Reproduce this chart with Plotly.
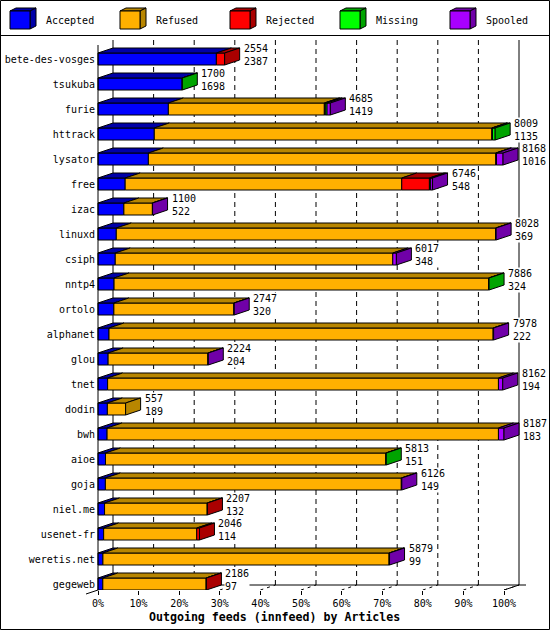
import plotly.graph_objects as go

# ---------------- data ----------------
hosts = ["bete-des-vosges", "tsukuba", "furie", "httrack", "lysator", "free", "izac",
         "linuxd", "csiph", "nntp4", "ortolo", "alphanet", "glou", "tnet", "dodin",
         "bwh", "aioe", "goja", "niel.me", "usenet-fr", "weretis.net", "gegeweb"]
totals = [2554, 1700, 4685, 8009, 8168, 6746, 1100, 8028, 6017, 7886, 2747, 7978,
          2224, 8162, 557, 8187, 5813, 6126, 2207, 2046, 5879, 2186]
accepted = [2387, 1698, 1419, 1135, 1016, 548, 522, 369, 348, 324, 320, 222,
            204, 194, 189, 183, 151, 149, 132, 114, 99, 97]
refused = [0, 0, 3145, 6806, 7005, 5577, 575, 7649, 5596, 7552, 2420, 7746,
           2012, 7881, 368, 7892, 5652, 5967, 2070, 1877, 5770, 2084]
rejected = [167, 0, 20, 15, 15, 558, 0, 0, 0, 0, 0, 0,
            0, 0, 0, 0, 0, 0, 5, 55, 0, 5]
missing = [0, 2, 35, 53, 0, 25, 0, 0, 0, 10, 0, 0,
           0, 0, 0, 0, 10, 0, 0, 0, 0, 0]
spooled = [0, 0, 66, 0, 132, 38, 3, 10, 73, 0, 7, 10,
           8, 87, 0, 112, 0, 10, 0, 0, 10, 0]
tick_pcts = [0, 10, 20, 30, 40, 50, 60, 70, 80, 90, 100]
tick_labels = [f"{t}%" for t in tick_pcts]

series_names = ["Accepted", "Refused", "Rejected", "Missing", "Spooled"]
series_vals = [accepted, refused, rejected, missing, spooled]
front_cols = ["#0000FF", "#FFB000", "#FF0000", "#00FF00", "#A800FF"]
dark_cols = ["#0000A8", "#B88600", "#AA0000", "#00A400", "#7000A8"]

# ---------------- geometry (styles) ----------------
W, H = 550, 630
L, R, T, B = 96, 535, 38, 590          # plot area in pixels
X0PX, PXPERPCT = 98, 4.06               # 0% position and px per percent
ROW0, ROWPX = 59, 25                    # row centre and spacing in px
DEPTH_X, DEPTH_Y = 15, 5                # 3D offset in px
dx = DEPTH_X / PXPERPCT
dy = DEPTH_Y / ROWPX
half = 6 / ROWPX
FONT = "DejaVu Sans Mono"

def pxx(p):
    return (p - L) / (R - L)

def pxy(p):
    return (B - p) / (B - T)

y_top_back = (40 - ROW0) / ROWPX
y_floor_front = (B - ROW0) / ROWPX
y_floor_back = y_floor_front - dy

maxv = max(totals)
n = len(hosts)
rows = list(range(n))

fig = go.Figure()

# segment extents in percent
segs = []  # per row list of (series index, x0, x1)
for i in rows:
    cum = 0.0
    lst = []
    for s, vals in enumerate(series_vals):
        w = vals[i] / maxv * 100
        if vals[i] > 0:
            lst.append((s, cum, cum + w))
        cum += w
    segs.append(lst)

# front faces
for s, vals in enumerate(series_vals):
    xs, bases, ys = [], [], []
    for i in rows:
        for (ss, a, b) in segs[i]:
            if ss == s:
                xs.append(b - a)
                bases.append(a)
                ys.append(i)
    fig.add_trace(go.Bar(
        x=xs, y=ys, base=bases, orientation="h", width=2 * half,
        marker=dict(color=front_cols[s], line=dict(color="black", width=1)),
        name=series_names[s], showlegend=False, hoverinfo="skip"))

# top faces
for s in range(len(series_vals)):
    px_, py_ = [], []
    for i in rows:
        yt = i - half
        for (ss, a, b) in segs[i]:
            if ss == s:
                px_ += [a, b, b + dx, a + dx, a, None]
                py_ += [yt, yt, yt - dy, yt - dy, yt, None]
    if px_:
        fig.add_trace(go.Scatter(
            x=px_, y=py_, mode="lines", fill="toself", fillcolor=dark_cols[s],
            line=dict(color="black", width=1), showlegend=False, hoverinfo="skip"))

# side faces (last segment)
for s in range(len(series_vals)):
    px_, py_ = [], []
    for i in rows:
        if not segs[i]:
            continue
        ss, a, b = segs[i][-1]
        if ss != s:
            continue
        yt, yb = i - half, i + half
        px_ += [b, b + dx, b + dx, b, b, None]
        py_ += [yt, yt - dy, yb - dy, yb, yt, None]
    if px_:
        fig.add_trace(go.Scatter(
            x=px_, y=py_, mode="lines", fill="toself", fillcolor=dark_cols[s],
            line=dict(color="black", width=1), showlegend=False, hoverinfo="skip"))

shapes = []
# back wall grid lines
for t in tick_pcts[1:-1]:
    shapes.append(dict(type="line", xref="x", yref="y", x0=t + dx, x1=t + dx,
                       y0=y_top_back, y1=y_floor_back, layer="below",
                       line=dict(color="black", width=1, dash="5px,4px")))
# floor tick diagonals
for t in tick_pcts:
    shapes.append(dict(type="line", xref="x", yref="y", x0=t, x1=t + dx,
                       y0=y_floor_front, y1=y_floor_back, layer="below",
                       line=dict(color="black", width=1, dash="3px,4px")))
# back wall left/right, floor back
for xv in (dx, 100 + dx):
    shapes.append(dict(type="line", xref="x", yref="y", x0=xv, x1=xv,
                       y0=y_top_back, y1=y_floor_back, layer="below",
                       line=dict(color="black", width=1)))
shapes.append(dict(type="line", xref="x", yref="y", x0=dx, x1=100 + dx + 7 / PXPERPCT,
                   y0=y_floor_back, y1=y_floor_back, layer="below",
                   line=dict(color="black", width=1)))
shapes.append(dict(type="line", xref="x", yref="y", x0=100, x1=100 + dx,
                   y0=y_floor_front, y1=y_floor_back, layer="below",
                   line=dict(color="black", width=1)))
# left floor diagonal (extends beyond the plot area)
shapes.append(dict(type="line", xref="paper", yref="paper",
                   x0=pxx(113), y0=pxy(585), x1=pxx(86), y1=pxy(594), layer="below",
                   line=dict(color="black", width=1)))
# front left axis
shapes.append(dict(type="line", xref="x", yref="y", x0=0, x1=0,
                   y0=y_top_back + dy, y1=y_floor_front, layer="above",
                   line=dict(color="black", width=1)))
# outer frame and legend separator
shapes.append(dict(type="rect", xref="paper", yref="paper",
                   x0=pxx(0.5), x1=pxx(549.5), y0=pxy(0.5), y1=pxy(629.5),
                   line=dict(color="black", width=1)))
shapes.append(dict(type="line", xref="paper", yref="paper",
                   x0=pxx(0), x1=pxx(550), y0=pxy(35.5), y1=pxy(35.5),
                   line=dict(color="black", width=1)))

annotations = []
# legend cubes
for s, name in enumerate(series_names):
    lx = 10 + 110 * s
    fx0, fx1, fy0, fy1 = lx, lx + 20, 11, 29
    ox, oy = 6, 3
    def P(x, y):
        return f"{pxx(x):.5f},{pxy(y):.5f}"
    top = f"M{P(fx0, fy0)} L{P(fx1, fy0)} L{P(fx1 + ox, fy0 - oy)} L{P(fx0 + ox, fy0 - oy)} Z"
    side = f"M{P(fx1, fy0)} L{P(fx1 + ox, fy0 - oy)} L{P(fx1 + ox, fy1 - oy)} L{P(fx1, fy1)} Z"
    shapes.append(dict(type="path", xref="paper", yref="paper", path=top,
                       fillcolor=dark_cols[s], line=dict(color="black", width=1)))
    shapes.append(dict(type="path", xref="paper", yref="paper", path=side,
                       fillcolor=dark_cols[s], line=dict(color="black", width=1)))
    shapes.append(dict(type="rect", xref="paper", yref="paper",
                       x0=pxx(fx0), x1=pxx(fx1), y0=pxy(fy0), y1=pxy(fy1),
                       fillcolor=front_cols[s], line=dict(color="black", width=1)))
    annotations.append(dict(xref="paper", yref="paper", x=pxx(lx + 34), y=pxy(20),
                            xanchor="left", yanchor="middle", showarrow=False,
                            text=name, font=dict(family=FONT, size=10, color="black")))

# value labels
for i in rows:
    end = segs[i][-1][2] if segs[i] else 0
    annotations.append(dict(xref="x", yref="y", x=end + dx + 3 / PXPERPCT, y=i - 0.17,
                            xanchor="left", yanchor="middle", align="left",
                            showarrow=False, borderpad=0, bgcolor="white",
                            text=f"{totals[i]}<br>{accepted[i]}",
                            font=dict(family=FONT, size=10, color="black")))

# axis title
annotations.append(dict(xref="paper", yref="paper", x=pxx(274), y=pxy(617),
                        xanchor="center", yanchor="middle", showarrow=False,
                        text="<b>Outgoing feeds (innfeed) by Articles</b>",
                        font=dict(family=FONT, size=11.6, color="black")))

fig.update_layout(
    width=W, height=H, autosize=False,
    margin=dict(l=L, r=W - R, t=T, b=H - B, pad=0, autoexpand=False),
    paper_bgcolor="white", plot_bgcolor="white",
    barmode="overlay", showlegend=False,
    shapes=shapes, annotations=annotations,
    font=dict(family=FONT, size=10, color="black"),
    xaxis=dict(range=[(L - X0PX) / PXPERPCT, (R - X0PX) / PXPERPCT],
               tickvals=tick_pcts, ticktext=tick_labels, automargin=False,
               ticks="outside", ticklen=4, tickcolor="black",
               showgrid=False, zeroline=False, showline=False, fixedrange=True,
               tickfont=dict(family=FONT, size=10, color="black")),
    yaxis=dict(range=[(B - ROW0) / ROWPX, (T - ROW0) / ROWPX],
               tickvals=rows, ticktext=hosts, ticks="", automargin=False,
               showgrid=False, zeroline=False, showline=False, fixedrange=True,
               tickfont=dict(family=FONT, size=10, color="black")),
)

fig.write_html("out.html", config={"displayModeBar": False},
               post_script="document.body.style.margin='0';")
